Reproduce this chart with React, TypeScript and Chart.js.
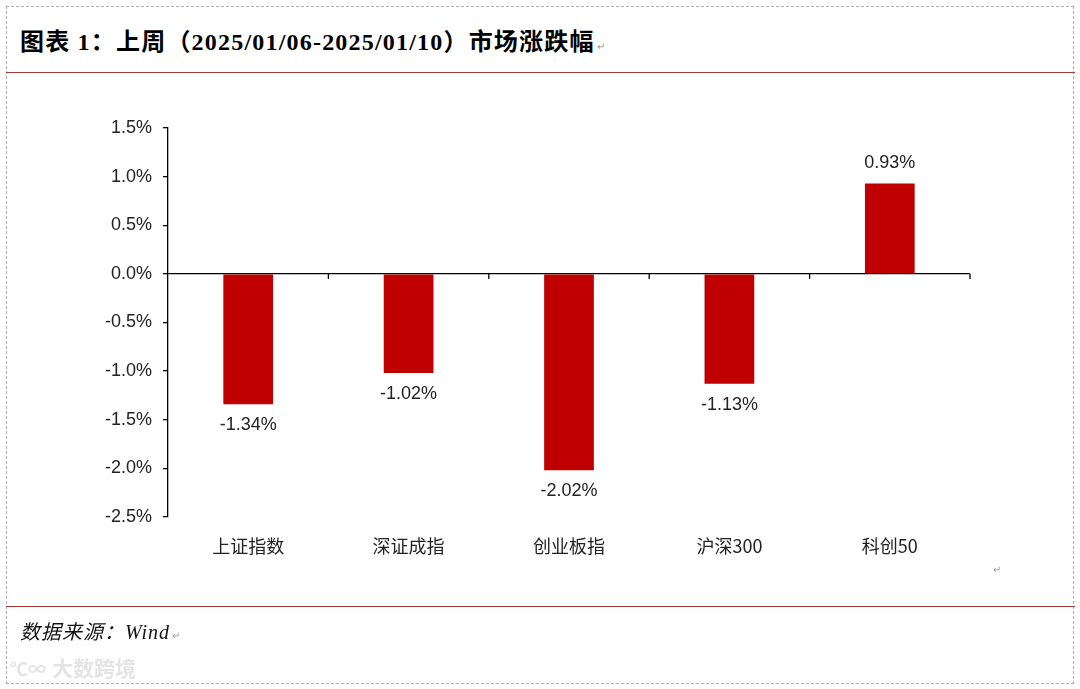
import React, { useEffect, useRef } from "react";
import { Chart, registerables } from "chart.js";

Chart.register(...registerables);

const categories = ["上证指数", "深证成指", "创业板指", "沪深300", "科创50"];
const changes = [-1.34, -1.02, -2.02, -1.13, 0.93];
const yMin = -2.5;
const yMax = 1.5;
const yStep = 0.5;

const titleText = "图表 1：上周（2025/01/06-2025/01/10）市场涨跌幅";
const sourceText = "数据来源：Wind";
const watermarkText = "大数跨境";

const BAR_COLOR = "#C00000";
const LABEL_FONT = '18px "Liberation Sans", Arial, "Noto Sans CJK SC", sans-serif';

const valueLabels = {
  id: "valueLabels",
  afterDatasetsDraw(chart: any) {
    const ctx = chart.ctx;
    const meta = chart.getDatasetMeta(0);
    ctx.save();
    ctx.font = LABEL_FONT;
    ctx.fillStyle = "#222";
    ctx.textAlign = "center";
    ctx.textBaseline = "middle";
    meta.data.forEach((bar: any, i: number) => {
      const v = changes[i];
      const y = v >= 0 ? bar.y - 20 : bar.y + 21;
      ctx.fillText(v.toFixed(2) + "%", bar.x, y);
    });
    ctx.restore();
  },
};

const axisTicks = {
  id: "axisTicks",
  afterDraw(chart: any) {
    const ctx = chart.ctx;
    const xs = chart.scales.x;
    const ys = chart.scales.y;
    const y0 = ys.getPixelForValue(0);
    ctx.save();
    ctx.strokeStyle = "#000";
    ctx.lineWidth = 1.3;
    const n = categories.length;
    for (let i = 0; i < n; i++) {
      let px: number;
      if (i < n - 1) {
        px = (xs.getPixelForValue(i) + xs.getPixelForValue(i + 1)) / 2;
      } else {
        px = chart.chartArea.right;
      }
      ctx.beginPath();
      ctx.moveTo(px, y0);
      ctx.lineTo(px, y0 + 5);
      ctx.stroke();
    }
    ctx.restore();
  },
};

export default function App() {
  const ref = useRef<HTMLCanvasElement | null>(null);

  useEffect(() => {
    document.body.style.margin = "0";
    if (!ref.current) return;
    const chart = new Chart(ref.current, {
      type: "bar",
      data: {
        labels: categories,
        datasets: [
          {
            data: changes,
            backgroundColor: BAR_COLOR,
            borderWidth: 0,
            barPercentage: 0.62,
            categoryPercentage: 0.5,
          },
        ],
      },
      options: {
        responsive: false,
        animation: false,
        events: [],
        layout: { padding: { top: 128, right: 110, bottom: 0, left: 0 } },
        plugins: {
          legend: { display: false },
          tooltip: { enabled: false },
          title: { display: false },
        },
        scales: {
          x: {
            grid: { display: false },
            border: { display: false },
            ticks: {
              padding: 10,
              color: "#222",
              font: { family: '"Noto Sans CJK SC", "Liberation Sans", sans-serif', size: 18 },
              maxRotation: 0,
              autoSkip: false,
            },
            afterFit: (scale: any) => {
              scale.height = 172;
            },
          },
          y: {
            min: yMin,
            max: yMax,
            ticks: {
              stepSize: yStep,
              padding: 11,
              color: "#222",
              font: { family: '"Liberation Sans", Arial, sans-serif', size: 18 },
              callback: (v: any) => Number(v).toFixed(1) + "%",
            },
            grid: {
              drawOnChartArea: true,
              tickLength: 5,
              tickColor: "#000",
              lineWidth: 1.3,
              color: (c: any) => (c.tick && Math.abs(c.tick.value) < 1e-9 ? "#000" : "rgba(0,0,0,0)"),
            },
            border: { display: true, color: "#000", width: 1.3 },
            afterFit: (scale: any) => {
              scale.width = 168;
            },
          },
        },
      },
      plugins: [valueLabels, axisTicks],
    });
    return () => chart.destroy();
  }, []);

  return (
    <div style={{ position: "fixed", left: 0, top: 0, width: 1080, height: 689, background: "#fff", overflow: "hidden" }}>
      <div
        style={{
          position: "absolute",
          left: 6,
          top: 6,
          width: 1068,
          height: 678,
          border: "1px dashed #b0b0b0",
          boxSizing: "border-box",
        }}
      />
      <div
        style={{
          position: "absolute",
          left: 20,
          top: 26,
          fontFamily: '"Liberation Serif", "Noto Sans CJK SC", serif',
          fontWeight: "bold",
          fontSize: 24,
          letterSpacing: 1.2,
          color: "#000",
          whiteSpace: "nowrap",
          lineHeight: "32px",
        }}
      >
        {titleText}
        <span style={{ fontSize: 10, color: "#999", fontWeight: "normal", marginLeft: 2 }}>↵</span>
      </div>
      <div style={{ position: "absolute", left: 6, top: 72, width: 1069, height: 1, background: "#a33a3a" }} />
      <canvas
        ref={ref}
        width={1080}
        height={689}
        style={{ position: "absolute", left: 0, top: 0, width: 1080, height: 689 }}
      />
      <div style={{ position: "absolute", left: 993, top: 564, fontSize: 10, color: "#999" }}>↵</div>
      <div style={{ position: "absolute", left: 6, top: 606, width: 1069, height: 1, background: "#a33a3a" }} />
      <div
        style={{
          position: "absolute",
          left: 20,
          top: 618,
          fontFamily: '"Liberation Serif", "Noto Sans CJK SC", serif',
          fontStyle: "italic",
          fontSize: 20,
          letterSpacing: 1,
          color: "#111",
          whiteSpace: "nowrap",
          lineHeight: "28px",
        }}
      >
        {sourceText}
        <span style={{ fontSize: 10, color: "#999", fontStyle: "normal", marginLeft: 2 }}>↵</span>
      </div>
      <div
        style={{
          position: "absolute",
          left: 10,
          top: 653,
          fontFamily: '"Noto Sans CJK SC", sans-serif',
          fontSize: 21,
          fontWeight: "bold",
          color: "#e4e4e4",
          whiteSpace: "nowrap",
          lineHeight: "28px",
        }}
      >
        <span style={{ fontSize: 18, marginRight: 6 }}>℃∞</span>
        {watermarkText}
      </div>
    </div>
  );
}
